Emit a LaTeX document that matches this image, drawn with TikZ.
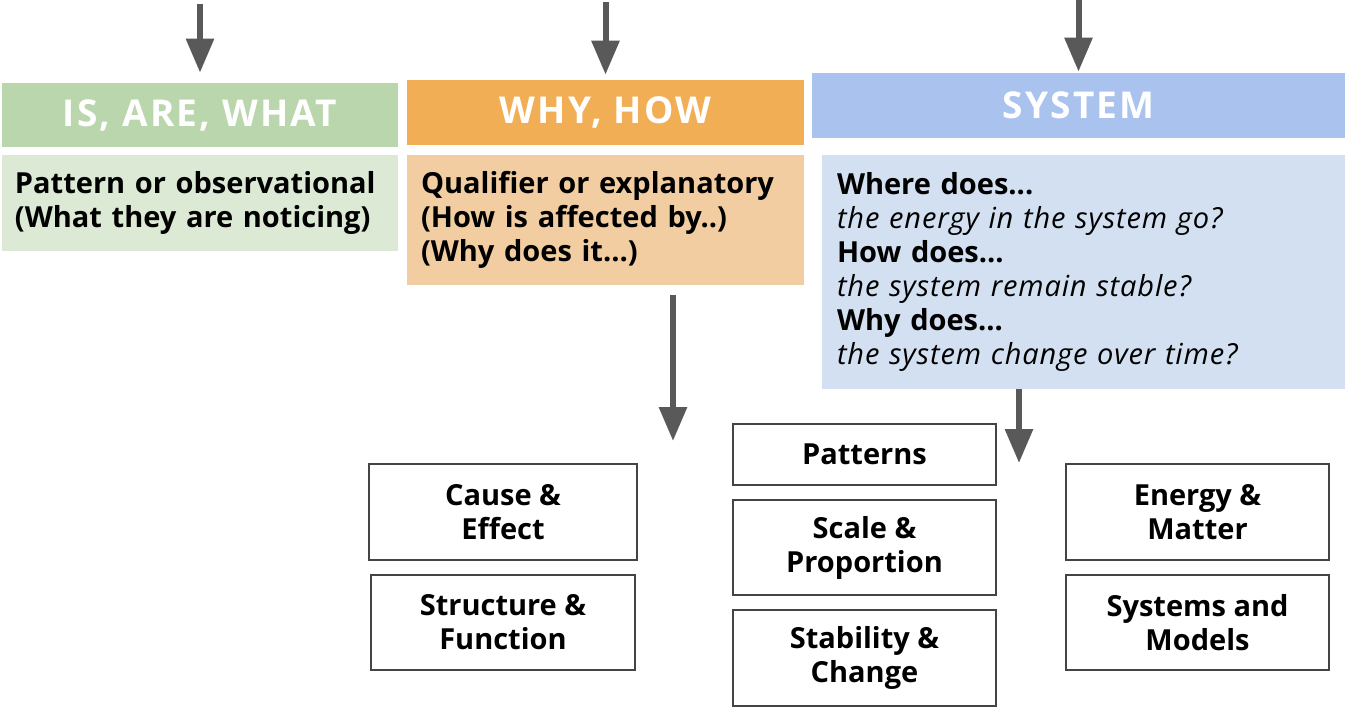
\documentclass[tikz,border=0pt]{standalone}
\usepackage{fontspec}
\setmainfont{Open Sans}
\usetikzlibrary{arrows.meta,calc}

\definecolor{greenhead}{RGB}{186,214,172}
\definecolor{greenbody}{RGB}{220,233,213}
\definecolor{orangehead}{RGB}{242,174,85}
\definecolor{orangebody}{RGB}{242,205,162}
\definecolor{bluehead}{RGB}{169,194,238}
\definecolor{bluebody}{RGB}{211,224,241}
\definecolor{arrowgray}{RGB}{89,89,89}
\definecolor{boxline}{RGB}{68,68,68}

\tikzset{
  head/.style={inner sep=0pt, text=white,
               font=\fontsize{18.5}{20}\selectfont\bfseries\addfontfeature{LetterSpace=6}},
  body/.style={inner ysep=0pt, align=left, font=\fontsize{14.5}{17}\selectfont\bfseries},
  concept/.style={draw=boxline, line width=1pt, fill=white, inner sep=0pt,
                  minimum width=131.5pt, minimum height=48pt, align=center,
                  font=\fontsize{14.5}{17}\selectfont\bfseries},
  flow/.style={draw=arrowgray, line width=3pt,
               -{Triangle[width=13.5pt,length=17pt]}}
}

\begin{document}
\begin{tikzpicture}[x=0.5pt,y=-0.5pt]
\useasboundingbox (0,0) rectangle (1345,709);

% HEADERS
\node(head1)[head, fill=greenhead, minimum width=198pt, minimum height=32pt] at (200,115) {IS, ARE, WHAT};
\node(head2)[head, fill=orangehead, minimum width=198.5pt, minimum height=32.5pt] at (605.5,112.5) {WHY, HOW};
\node(head3)[head, fill=bluehead, minimum width=266.5pt, minimum height=32.5pt] at (1078.5,105.5) {SYSTEM};

% BODIES
\node(body1)[body, fill=greenbody, text width=185pt, inner xsep=6.5pt,
             minimum height=48pt] at (200,203)
  {Pattern or observational\\(What they are noticing)};
\node(body2)[body, fill=orangebody, text width=184.5pt, inner xsep=7pt,
             minimum height=65pt] at (605.5,220)
  {Qualifier or explanatory\\(How is affected by..)\\(Why does it\dots)};
\node(body3)[body, fill=bluebody, text width=246.5pt, inner xsep=7.5pt,
             minimum height=117pt] at (1083.5,272)
  {Where does...\\
   \textit{\mdseries\addfontfeature{LetterSpace=3} the energy in the system go?}\\
   How does...\\
   \textit{\mdseries\addfontfeature{LetterSpace=3} the system remain stable?}\\
   Why does...\\
   \textit{\mdseries\addfontfeature{LetterSpace=3} the system change over time?}};

% CROSSCUTTING CONCEPTS
%left column
\node(cause)[concept, minimum width=134pt] at (503,512) {Cause \&\\Effect};
\node(structure)[concept, minimum width=132pt, minimum height=47.5pt] at (503,622.5) {Structure \&\\Function};
%middle column
\node(patterns)[concept, minimum height=30.5pt] at (864.5,454.5) {Patterns};
\node(scale)[concept, minimum height=47.5pt] at (864.5,547.5) {Scale \&\\Proportion};
\node(stability)[concept] at (864.5,658) {Stability \&\\Change};
%right column
\node(energy)[concept] at (1197.5,512) {Energy \&\\Matter};
\node(systems)[concept, minimum height=47.5pt] at (1197.5,622.5) {Systems and\\Models};

% ARROWS
\coordinate (in1) at (200,4);
\coordinate (in2) at (605.5,2);
\coordinate (in3) at (1078.5,0);
\coordinate (out2) at (673,441);
\coordinate (out3) at (1019,463);

\draw[flow, shorten >=5pt] (in1) -- (head1);
\draw[flow, shorten >=2.5pt] (in2) -- (head2);
\draw[flow, shorten >=0.5pt] (in3) -- (head3);
\draw[flow] ([xshift=33.75pt,yshift=-5pt]body2.south) -- (out2);
\draw[flow] ([xshift=-32.25pt]body3.south) -- (out3);

\end{tikzpicture}
\end{document}
